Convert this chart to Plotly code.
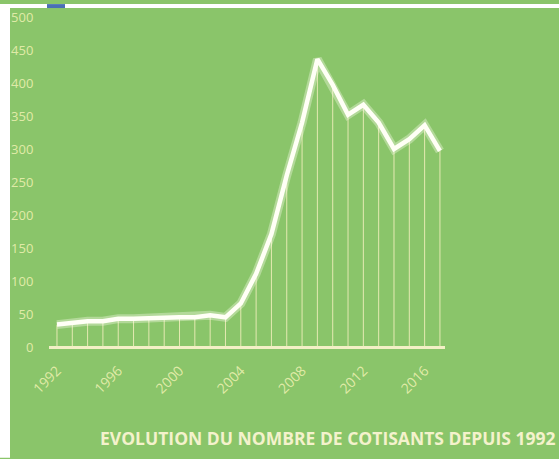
import plotly.graph_objects as go

years = list(range(1992, 2018))
cotisants = [34, 37, 39, 39, 43, 43, 44, 44, 45, 45, 48, 45, 66,
             111, 171, 260, 340, 436, 397, 352, 367, 340, 300, 315, 336, 297]
y_ticks = list(range(0, 501, 50))
x_ticks = [1992, 1996, 2000, 2004, 2008, 2012, 2016]
title_text = "EVOLUTION DU NOMBRE DE COTISANTS DEPUIS 1992"

GREEN = "#8AC56A"
CREAM = "#EEF0B8"
TICK = "rgba(236,240,176,0.9)"

# drop lines from each point to the baseline
dx, dy = [], []
for yr, v in zip(years, cotisants):
    dx += [yr, yr, None]
    dy += [0, v, None]

fig = go.Figure()
fig.add_trace(go.Scatter(x=dx, y=dy, mode="lines",
                         line=dict(color="rgba(245,240,190,0.85)", width=1),
                         hoverinfo="skip", showlegend=False))
# glow
fig.add_trace(go.Scatter(x=years, y=cotisants, mode="lines",
                         line=dict(color="rgba(255,255,240,0.35)", width=9),
                         hoverinfo="skip", showlegend=False))
fig.add_trace(go.Scatter(x=years, y=cotisants, mode="lines",
                         line=dict(color="#FFFFF6", width=4.5),
                         showlegend=False))

W, H = 559, 459
L, R, T, B = 49, 114, 8, 107
pw, ph = W - L - R, H - T - B

def px_x(x):
    return (x - L) / pw

def px_y(y):
    return (H - B - y) / ph

fig.update_layout(
    width=W, height=H,
    margin=dict(l=L, r=R, t=T, b=B),
    paper_bgcolor=GREEN, plot_bgcolor=GREEN,
    font=dict(family="Open Sans, sans-serif", color=CREAM),
    xaxis=dict(range=[1991.48, 2017.33], tickvals=x_ticks,
               ticktext=[str(t) for t in x_ticks], tickangle=-45,
               showgrid=False, zeroline=False, showline=False,
               ticks="outside", ticklen=4, tickcolor="rgba(0,0,0,0)",
               tickfont=dict(size=14, color=TICK)),
    yaxis=dict(range=[-7.5, 507.5], tickvals=y_ticks,
               showgrid=False, zeroline=True, zerolinecolor="#F3F0C6",
               zerolinewidth=3, showline=False, ticks="outside",
               ticklen=12, tickcolor="rgba(0,0,0,0)",
               tickfont=dict(size=13, color=TICK)),
    shapes=[
        dict(type="rect", xref="paper", yref="paper",
             x0=px_x(0), x1=px_x(10), y0=px_y(0), y1=px_y(H),
             fillcolor="white", line=dict(width=0), layer="above"),
        dict(type="rect", xref="paper", yref="paper",
             x0=px_x(0), x1=px_x(W), y0=px_y(4), y1=px_y(0),
             fillcolor="white", line=dict(width=0), layer="above"),
        dict(type="rect", xref="paper", yref="paper",
             x0=px_x(47), x1=px_x(65), y0=px_y(4), y1=px_y(0),
             fillcolor="#4A6FB5", line=dict(width=0), layer="above"),
    ],
    annotations=[
        dict(text="<b>" + title_text + "</b>", xref="paper", yref="paper",
             x=px_x(557), y=px_y(439), xanchor="right", yanchor="middle",
             showarrow=False, font=dict(size=17.5, color="#F4F2CC"))
    ],
)

fig.write_html("out.html",
               config={"displayModeBar": False},
               post_script="document.body.style.margin='0';"
                           "document.body.style.overflow='hidden';")
